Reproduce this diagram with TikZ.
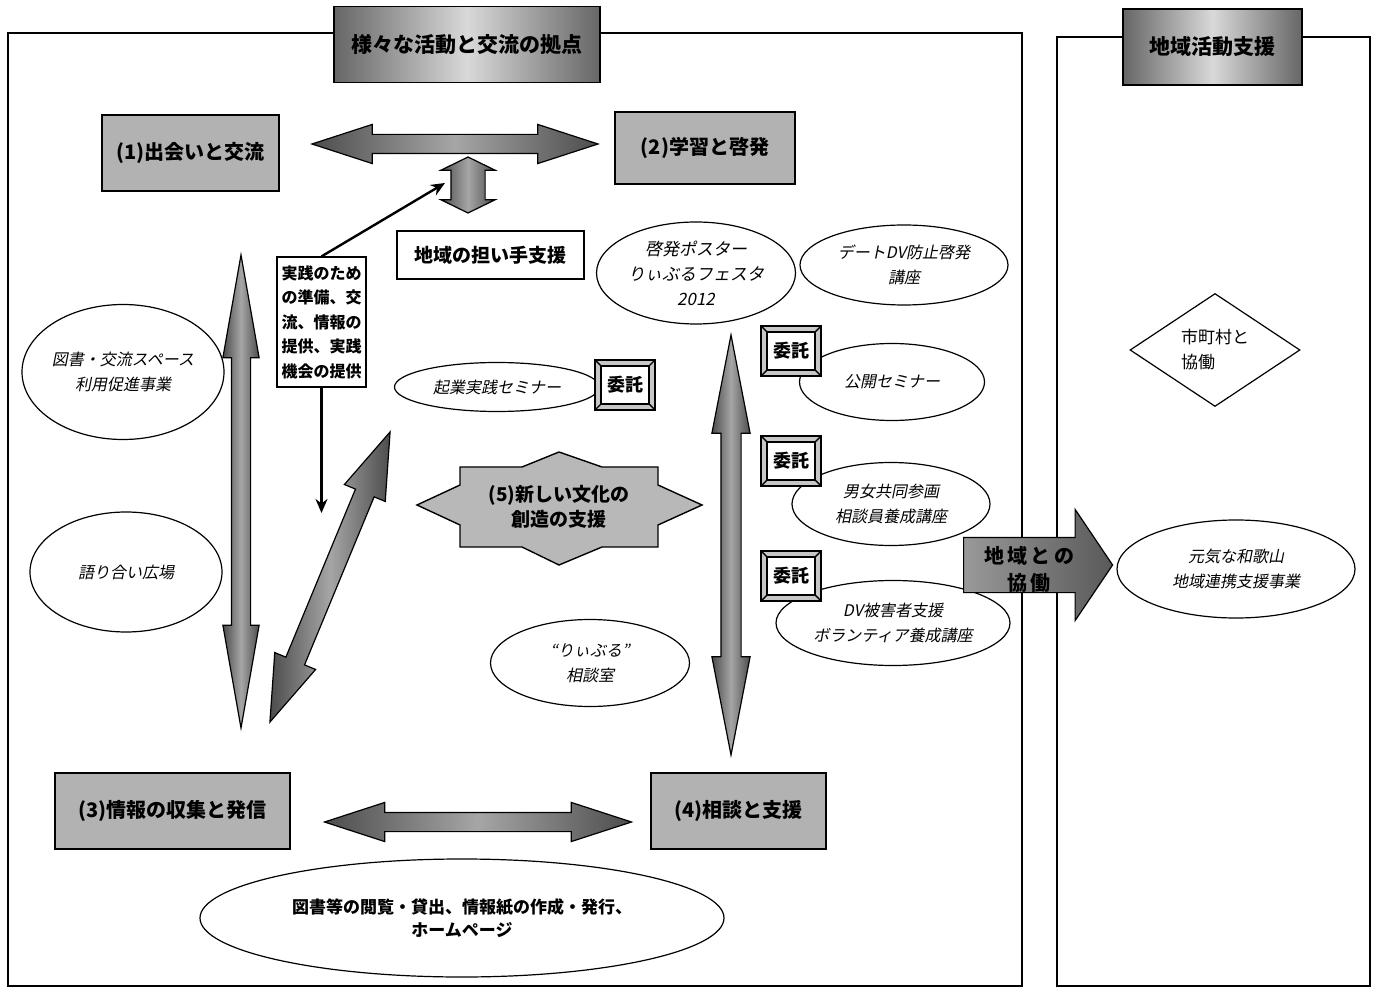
\documentclass[tikz,border=0pt]{standalone}
\usepackage{fontspec}
\setmainfont{Noto Sans CJK JP}
\newfontfamily\jpit[FakeSlant=0.2]{Noto Sans CJK JP}
\usetikzlibrary{shapes.geometric,shapes.arrows,arrows.meta}
\tikzset{frame/.style={draw, line width=0.8pt},
    titlebox/.style={draw, line width=0.8pt, left color=black!60, right color=black!60,
        middle color=black!15, minimum height=38pt, font=\bfseries\fontsize{10.5}{12}\selectfont},
    graybox/.style={draw, line width=0.7pt, fill=black!30, minimum height=38pt,
        font=\bfseries\fontsize{10}{12}\selectfont},
    whitebox/.style={draw, fill=white, line width=0.6pt, font=\bfseries\fontsize{9.5}{12}\selectfont},
    oval/.style={ellipse, draw, fill=white, line width=0.6pt, inner sep=0pt, align=center,
        font=\jpit\fontsize{8}{12.5}\selectfont},
    fatarrow/.style={double arrow, draw, line width=0.6pt, inner xsep=0pt,
        left color=black!70, right color=black!70, middle color=black!35},
    thinarrow/.style={-{Stealth[length=7pt,width=6pt]}, line width=1.2pt},
    itaku/.style={draw, line width=0.7pt, fill=black!22, minimum width=30pt, minimum height=25pt,
        inner sep=0pt, font=\bfseries\fontsize{9}{11}\selectfont,
        path picture={
            \fill[white] ([shift={(3pt,3pt)}]path picture bounding box.south west)
                rectangle ([shift={(-3pt,-3pt)}]path picture bounding box.north east);
            \draw ([shift={(3pt,3pt)}]path picture bounding box.south west)
                rectangle ([shift={(-3pt,-3pt)}]path picture bounding box.north east);
            \draw (path picture bounding box.south west) -- ++(3pt,3pt)
                (path picture bounding box.north west) -- ++(3pt,-3pt)
                (path picture bounding box.south east) -- ++(-3pt,3pt)
                (path picture bounding box.north east) -- ++(-3pt,-3pt);
        }},
    }

\begin{document}
\begin{tikzpicture}[x=0.5pt,y=-0.5pt]
\useasboundingbox (0,0) rectangle (1380,988);
% frames
\draw[frame] (8,33) rectangle (1022,986);
\draw[frame] (1057,37) rectangle (1370,986);
\node[titlebox, minimum width=133pt] (base) at (467,44.5) {様々な活動と交流の拠点};
\node[titlebox, minimum width=89.5pt] (region) at (1212.5,47) {地域活動支援};

% the four functions
\node[graybox, minimum width=88.5pt] (meet) at (190.5,153) {(1)出会いと交流};
\node[graybox, minimum width=90pt, minimum height=36pt] (learn) at (705,148) {(2)学習と啓発};
\node[graybox, minimum width=117.5pt] (info) at (172.5,811) {(3)情報の収集と発信};
\node[graybox, minimum width=87.5pt] (consult) at (738.5,811) {(4)相談と支援};

% fat arrows
\node[fatarrow, minimum height=143pt, inner ysep=4.5pt, double arrow head extend=5pt,
    double arrow tip angle=36] (meetlearn) at (455,144) {};
\node[fatarrow, minimum height=28pt, inner ysep=8.25pt, double arrow head extend=5pt,
    double arrow tip angle=128, rotate=90] (updown) at (468,185) {};
\node[fatarrow, minimum height=236.5pt, inner ysep=4.5pt, double arrow head extend=4.25pt,
    double arrow tip angle=20, rotate=90] (meetinfo) at (241,491.5) {};
\node[fatarrow, minimum height=157pt, inner ysep=4.75pt, double arrow head extend=6pt,
    double arrow tip angle=37, rotate=67.5] (infonew) at (330,577) {};
\node[fatarrow, minimum height=210pt, inner ysep=4.75pt, double arrow head extend=4.5pt,
    double arrow tip angle=22, rotate=90] (learnconsult) at (731,545) {};
\node[fatarrow, minimum height=153.5pt, inner ysep=4.5pt, double arrow head extend=5pt,
    double arrow tip angle=36] (infoconsult) at (478,822) {};

% support for local leaders
\node[whitebox, minimum width=93.5pt, minimum height=24pt] (leaders) at (490.5,255) {地域の担い手支援};
\node[whitebox, minimum width=44.5pt, minimum height=65pt, inner sep=2pt, align=left,
    font=\bfseries\fontsize{8}{12.25}\selectfont] (practice) at (321.5,322)
    {実践のため\\の準備、交\\流、情報の\\提供、実践\\機会の提供};
\coordinate (c1) at (445,183);
\coordinate (c2) at (321.5,513);
\draw[thinarrow] (practice.north) -- (c1);
\draw[thinarrow] (practice.south) -- (c2);

% (5)
\draw[line width=0.7pt, fill=black!28] (460,467) -- (522,467) -- (559,452) -- (602,467) -- (658,467)
    -- (658,485) -- (702,505) -- (658,525) -- (658,547) -- (602,547) -- (559,565) -- (522,547)
    -- (460,547) -- (460,525) -- (417,505) -- (460,485) -- cycle;
\node[align=center, font=\bfseries\fontsize{9.5}{12.5}\selectfont] (culture) at (559,507)
    {(5)新しい文化の\\創造の支援};

% projects
\node[oval, minimum width=101pt, minimum height=67.5pt] (space) at (123,372) {図書・交流スペース\\利用促進事業};
\node[oval, minimum width=96pt, minimum height=60pt] (talk) at (126,572) {語り合い広場};
\node[oval, minimum width=99.5pt, minimum height=51pt, font=\jpit\fontsize{8.5}{12.5}\selectfont]
    (poster) at (696,273) {啓発ポスター\\りぃぶるフェスタ\\2012};
\node[oval, minimum width=104pt, minimum height=40pt] (date) at (904,265) {デートDV防止啓発\\講座};
\node[oval, minimum width=102.5pt, minimum height=24.5pt] (venture) at (497,387) {起業実践セミナー};
\node[oval, minimum width=92.5pt, minimum height=38.5pt] (open) at (892,382) {公開セミナー};
\node[oval, minimum width=99pt, minimum height=41.5pt] (counselor) at (891,504) {男女共同参画\\相談員養成講座};
\node[oval, minimum width=117pt, minimum height=42.5pt] (volunteer) at (893,623) {DV被害者支援\\ボランティア養成講座};
\node[oval, minimum width=99.5pt, minimum height=43.5pt] (room) at (590,663) {“りぃぶる”\\相談室};
\node[oval, minimum width=262pt, minimum height=59pt, font=\bfseries\fontsize{8.5}{11.5}\selectfont]
    (library) at (462,918) {図書等の閲覧・貸出、情報紙の作成・発行、\\ホームページ};
\node[oval, minimum width=119pt, minimum height=49pt] (genki) at (1236,569) {元気な和歌山\\地域連携支援事業};
\node[diamond, draw, line width=0.6pt, aspect=1.5, minimum width=85pt, minimum height=56.5pt,
    inner sep=0pt, align=left, font=\fontsize{8.5}{12.5}\selectfont] (city) at (1215,350) {市町村と\\協働};

% outsourced
\node[itaku] (itaku0) at (625,385) {委託};
\node[itaku] (itaku1) at (791,351) {委託};
\node[itaku] (itaku2) at (791,461) {委託};
\node[itaku] (itaku3) at (791,576) {委託};

% to the region
\node[single arrow, draw, line width=0.6pt, minimum height=74.5pt, inner xsep=0pt, inner ysep=13.5pt,
    single arrow head extend=14pt, single arrow tip angle=112, anchor=tail,
    left color=black!40, right color=black!65] (tolocal) at (963,565) {};
\node[align=center, font=\bfseries\fontsize{10}{13.5}\selectfont] (tolocaltext) at (1029,569)
    {地\,域\,と\,の\\協\,働};
\end{tikzpicture}
\end{document}
